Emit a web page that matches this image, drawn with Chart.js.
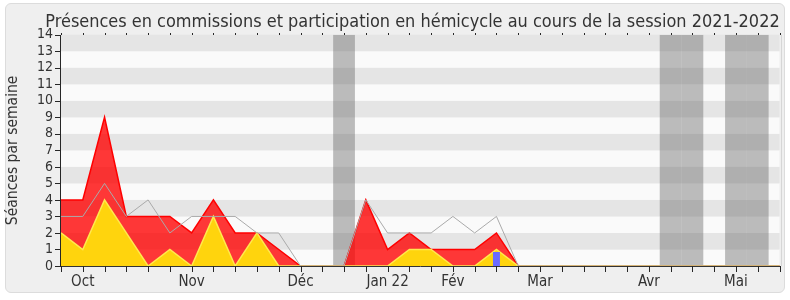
<!DOCTYPE html>
<html><head><meta charset="utf-8">
<script src="https://cdn.jsdelivr.net/npm/chart.js@4/dist/chart.umd.min.js"></script>
<style>
html,body{margin:0;padding:0;background:#fff;}
#frame{position:absolute;left:5px;top:3px;width:778px;height:288px;border:1px solid #dcdcdc;border-radius:6px;background:#efefef;z-index:0;}
#wrap{position:absolute;left:0;top:0;width:790px;height:300px;z-index:1;}
</style></head><body>
<div id="frame"></div>
<div id="wrap"><canvas id="c" width="790" height="300"></canvas></div>
<script>
// ---- data (one entry per week, 34 weeks) ----
const weekLabels = ['', 'Oct', '', '', '', '', 'Nov', '', '', '', '', 'Déc', '', '', '', 'Jan 22', '', '', 'Fév', '', '', '', 'Mar', '', '', '', '', 'Avr', '', '', '', 'Mai', '', ''];
const presencesCommission     = [4, 4, 9, 3, 3, 3, 2, 4, 2, 2, 1, 0, 0, 0, 4, 1, 2, 1, 1, 1, 2, 0, 0, 0, 0, 0, 0, 0, 0, 0, 0, 0, 0, 0];
const interventionsCommission = [2, 1, 4, 2, 0, 1, 0, 3, 0, 2, 0, 0, 0, 0, 0, 0, 1, 1, 0, 0, 1, 0, 0, 0, 0, 0, 0, 0, 0, 0, 0, 0, 0, 0];
const presencesHemicycle      = [3, 3, 5, 3, 4, 2, 3, 3, 3, 2, 2, 0, 0, 0, 4, 2, 2, 2, 3, 2, 3, 0, 0, 0, 0, 0, 0, 0, 0, 0, 0, 0, 0, 0];
const interventionsHemicycle  = [null, null, null, null, null, null, null, null, null, null, null, null, null, null, null, null, null, null, null, null, 0.85, null, null, null, null, null, null, null, null, null, null, null, null, null];
const vacances                = [null, null, null, null, null, null, null, null, null, null, null, null, null, 14, null, null, null, null, null, null, null, null, null, null, null, null, null, null, 14, 14, null, 14, 14, null];
const yMin = 0, yMax = 14;
const chartTitle = 'Présences en commissions et participation en hémicycle au cours de la session 2021-2022';
const yTitle = 'Séances par semaine';

const FAMILY = '"DejaVu Sans Condensed", "DejaVu Sans", sans-serif';
Chart.defaults.font.family = FAMILY;
Chart.defaults.color = '#333';

const decor = {
  id: 'decor',
  beforeDraw(chart) {
    const {ctx, chartArea: a, scales: {y}} = chart;
    ctx.save();
    for (let v = yMin; v < yMax; v++) {
      const y0 = y.getPixelForValue(v), y1 = y.getPixelForValue(v + 1);
      ctx.fillStyle = (v % 2 === 0) ? '#fafafa' : '#e5e5e5';
      ctx.fillRect(a.left, y1, a.right - a.left, y0 - y1);
    }
    ctx.restore();
  },
  afterDraw(chart) {
    const ctx = chart.ctx;
    const a = chart.chartArea;
    const x = chart.scales.x, y = chart.scales.y;
    ctx.save();
    // right frame line
    ctx.fillStyle = '#d6d6d6';
    ctx.fillRect(Math.round(a.right) + 1, Math.round(a.top), 1, Math.round(a.bottom - a.top));
    // tick marks, placed through the scales
    ctx.fillStyle = '#262626';
    const yb = Math.round(a.bottom);
    const yt = Math.round(a.top);
    for (let i = 0; i < weekLabels.length; i++) {
      const px = Math.round(x.getPixelForValue(i));
      ctx.fillRect(px, yb, 1, 6);
      ctx.fillRect(px, yt - 2, 1, 2);
    }
    const xl = Math.round(a.left) - 1;
    for (let v = yMin; v <= yMax; v++) {
      const py = Math.round(y.getPixelForValue(v));
      ctx.fillRect(xl - 5, py, 6, 1);
    }
    ctx.fillRect(xl, yt, 1, yb - yt + 1);
    // title
    ctx.font = '16px ' + FAMILY;
    const w = ctx.measureText(chartTitle).width;
    const size = 16 * 735 / w;
    ctx.font = size.toFixed(2) + 'px ' + FAMILY;
    ctx.fillStyle = '#333';
    ctx.textAlign = 'center';
    ctx.textBaseline = 'alphabetic';
    ctx.fillText(chartTitle, 412.5, 26.5);
    ctx.restore();
  }
};

new Chart(document.getElementById('c'), {
  type: 'bar',
  data: {
    labels: weekLabels,
    datasets: [
      {type: 'line', label: 'Présences en commission', data: presencesCommission,
       borderColor: '#ff0000', backgroundColor: 'rgba(255,0,0,0.78)', fill: 'origin',
       borderWidth: 1.5, pointRadius: 0, tension: 0, order: 4},
      {type: 'line', label: 'Interventions en commission', data: interventionsCommission,
       borderColor: '#ffe94d', backgroundColor: '#ffd40d', fill: 'origin',
       borderWidth: 1.5, pointRadius: 0, tension: 0, order: 3},
      {type: 'line', label: 'Présences en hémicycle', data: presencesHemicycle,
       borderColor: '#aaaaaa', fill: false, borderWidth: 1, pointRadius: 0, tension: 0, order: 2},
      {type: 'bar', label: 'Interventions en hémicycle', data: interventionsHemicycle,
       backgroundColor: '#6b6bff', barPercentage: 0.32, categoryPercentage: 1, grouped: false, inflateAmount: 0, order: 1},
      {type: 'bar', label: 'Vacances', data: vacances,
       backgroundColor: 'rgba(100,100,100,0.42)', barPercentage: 1, categoryPercentage: 1, grouped: false, inflateAmount: 0, order: 5}
    ]
  },
  options: {
    responsive: false,
    animation: false,
    devicePixelRatio: 1,
    layout: {padding: {top: 34.7, right: 10.5, bottom: 0, left: 0}},
    plugins: {legend: {display: false}, tooltip: {enabled: false}, title: {display: false}},
    scales: {
      x: {
        type: 'category', position: 'bottom', offset: false,
        grid: {display: false, drawOnChartArea: false, drawTicks: true, tickLength: 6},
        border: {display: true, color: '#333', width: 1},
        ticks: {autoSkip: false, maxRotation: 0, minRotation: 0, padding: 1, color: '#333', font: {size: 15}},
        afterFit(s) { s.height = 34; }
      },
      y: {
        min: yMin, max: yMax,
        ticks: {stepSize: 1, autoSkip: false, padding: 3, color: '#333', font: {size: 14}},
        grid: {display: false, drawOnChartArea: false, drawTicks: true, tickLength: 5},
        border: {display: false},
        title: {display: true, text: yTitle, color: '#333', font: {size: 15.5}, padding: {top: 3.5, bottom: 0}},
        afterFit(s) { s.width = 61; }
      }
    }
  },
  plugins: [decor]
});
</script>
</body></html>
